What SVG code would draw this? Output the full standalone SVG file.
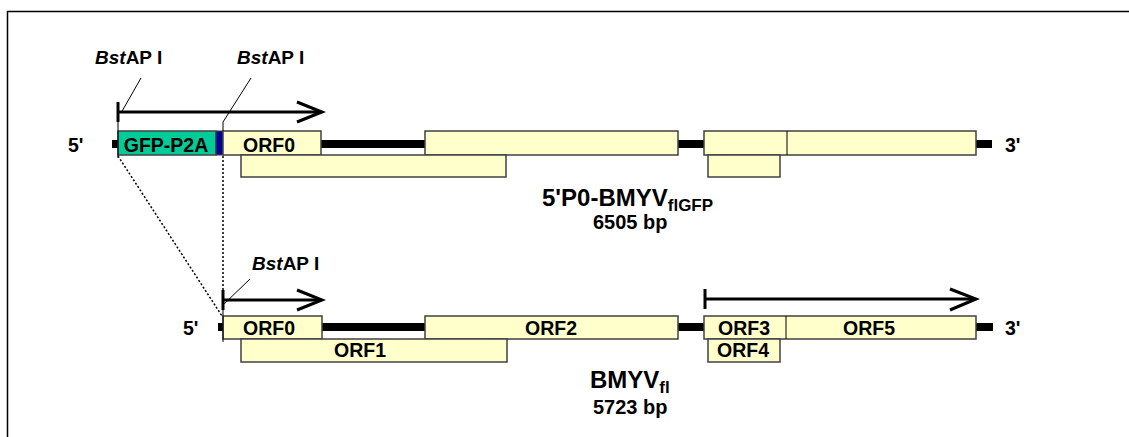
<svg xmlns="http://www.w3.org/2000/svg" width="1129" height="437" viewBox="0 0 1129 437">
<style>
.t{font-family:"Liberation Sans",Arial,sans-serif;font-weight:bold;fill:#000}
.l{font-size:19.5px}
.orf{fill:#FFFFCC;stroke:#404040;stroke-width:1.5}
.bb{stroke:#000;stroke-width:8;fill:none}
.ar{stroke:#000;stroke-width:3;fill:none}
.thin{stroke:#000;stroke-width:1;fill:none}
.dot{stroke:#000;stroke-width:1.5;stroke-dasharray:2,2;fill:none}
</style>
<rect x="0" y="0" width="1129" height="437" fill="#fff"/>
<path d="M7.5 445 V11.5 H1140" stroke="#000" stroke-width="1.5" fill="none"/>
<g id="connectors">
<path class="dot" d="M118 156 L222 316"/>
<path class="dot" d="M223 156 V308"/>
</g>
<g id="construct">
<line class="bb" x1="112" y1="144" x2="992" y2="144"/>
<rect x="118" y="131" width="98" height="24" fill="#00CC99" stroke="#404040" stroke-width="1.5"/>
<rect x="216" y="131" width="7" height="24" fill="#000099" stroke="#404040" stroke-width="1"/>
<text class="t l" x="166" y="152" text-anchor="middle">GFP-P2A</text>
<rect class="orf" x="223" y="131" width="98" height="24"/>
<text class="t l" x="269" y="152" text-anchor="middle">ORF0</text>
<rect class="orf" x="425" y="131" width="253" height="24"/>
<rect class="orf" x="704" y="131" width="272" height="24"/>
<line class="thin" x1="787" y1="131" x2="787" y2="155"/>
<rect class="orf" x="241" y="155" width="265" height="22"/>
<rect class="orf" x="708" y="155" width="72" height="22"/>
<text class="t l" x="68" y="152">5'</text>
<text class="t l" x="1005" y="152">3'</text>
<line class="thin" x1="118" y1="108" x2="118" y2="158"/>
<line x1="118" y1="102" x2="118" y2="122" stroke="#000" stroke-width="3"/>
<line class="ar" x1="118" y1="112" x2="321" y2="112"/>
<path class="ar" d="M297 102 L322 112 L297 122"/>
<line class="thin" x1="141" y1="78" x2="121" y2="113"/>
<path class="thin" d="M251 78 L223 122 V131"/>
<text class="t" x="95" y="64" font-size="19"><tspan font-style="italic">Bst</tspan>AP I</text>
<text class="t" x="237" y="64" font-size="19"><tspan font-style="italic">Bst</tspan>AP I</text>
<text class="t" x="542" y="206" font-size="24">5'P0-BMYV<tspan font-size="17" dy="5">flGFP</tspan></text>
<text class="t" x="593" y="229" font-size="20">6505 bp</text>
</g>
<g id="wildtype">
<line class="bb" x1="218" y1="327" x2="993" y2="327"/>
<rect class="orf" x="223" y="316" width="99" height="23"/>
<text class="t l" x="269" y="335" text-anchor="middle">ORF0</text>
<rect class="orf" x="425" y="316" width="253" height="23"/>
<text class="t l" x="551" y="335" text-anchor="middle">ORF2</text>
<rect class="orf" x="704" y="316" width="272" height="23"/>
<line class="thin" x1="786" y1="316" x2="786" y2="339"/>
<text class="t l" x="744" y="335" text-anchor="middle">ORF3</text>
<text class="t l" x="869" y="335" text-anchor="middle">ORF5</text>
<rect class="orf" x="241" y="339" width="266" height="23"/>
<text class="t l" x="360" y="357" text-anchor="middle">ORF1</text>
<rect class="orf" x="708" y="339" width="72" height="23"/>
<text class="t l" x="743" y="357" text-anchor="middle">ORF4</text>
<text class="t l" x="183" y="335">5'</text>
<text class="t l" x="1005" y="335">3'</text>
<line class="thin" x1="223" y1="300" x2="223" y2="342"/>
<line x1="223" y1="290" x2="223" y2="310" stroke="#000" stroke-width="3"/>
<line class="ar" x1="223" y1="300" x2="321" y2="300"/>
<path class="ar" d="M297 290 L322 300 L297 310"/>
<line class="thin" x1="250" y1="279" x2="224" y2="304"/>
<text class="t" x="252" y="270" font-size="19"><tspan font-style="italic">Bst</tspan>AP I</text>
<line x1="705" y1="289" x2="705" y2="309" stroke="#000" stroke-width="3"/>
<line class="ar" x1="705" y1="299" x2="975" y2="299"/>
<path class="ar" d="M950 289 L976 299 L950 310"/>
<text class="t" x="590" y="388" font-size="24">BMYV<tspan font-size="17" dy="5">fl</tspan></text>
<text class="t" x="593" y="414" font-size="20">5723 bp</text>
</g>
</svg>
